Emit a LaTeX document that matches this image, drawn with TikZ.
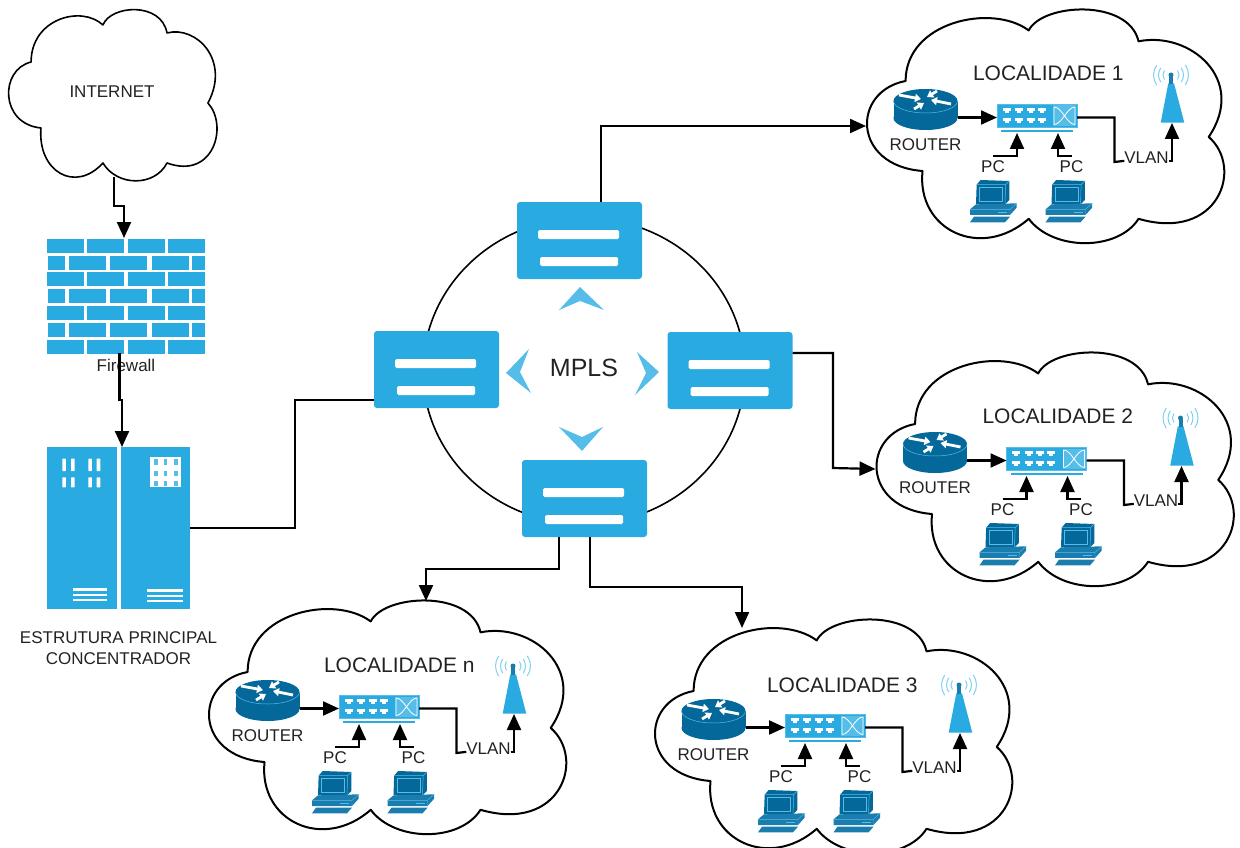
\documentclass[tikz,border=0pt]{standalone}
\usepackage{fontspec}
\setmainfont{Liberation Sans}
\usetikzlibrary{calc,arrows.meta}
\definecolor{cblue}{HTML}{29ABE2}
\definecolor{clight}{HTML}{56BDE8}
\definecolor{cdark}{HTML}{04689B}
\definecolor{cmid}{HTML}{1B7CAE}
\definecolor{ctxt}{HTML}{222222}
\definecolor{carc}{HTML}{7DD0F0}
\tikzset{
  conn/.style={draw=black,line width=2.2pt,line join=miter},
  arr/.style={conn,-{Triangle[length=16pt,width=14pt]}},
  cloudline/.style={draw=black,line width=2pt,line join=round},
  lbl/.style={font=\fontsize{17}{21}\selectfont,text=ctxt,inner sep=0pt,outer sep=0pt},
  title/.style={font=\fontsize{21}{24}\selectfont,text=ctxt,inner sep=0pt,outer sep=0pt,anchor=west},
  frame/.style={inner sep=0pt,outer sep=0pt},
  mplsbox/.style={fill=cblue,rounded corners=3pt,minimum width=125pt,minimum height=77pt,inner sep=0pt,outer sep=0pt},
  chev/.style={fill=clight},
}
% cloud outline in a 100x100 box
\newcommand{\CloudShape}[5][cloudline]{%
  \draw[#1,shift={(#2,#3)},x=#4pt,y=-#5pt]
    (15.7,69.4) .. controls (-4,67) and (-4,35) .. (11,30.6)
    .. controls (11,5) and (35,-3) .. (45.2,8.8)
    .. controls (49,-3) and (73,-5) .. (75.7,13.5)
    .. controls (90,9) and (106,30) .. (95.2,54.7)
    .. controls (105,68) and (98,100) .. (75.7,90)
    .. controls (70,104) and (52,104) .. (45.2,90)
    .. controls (32,108) and (14,95) .. cycle;}
\newcommand{\PCicon}[2]{%
  \begin{scope}[shift={(#1,#2)},x=0.3333pt,y=-0.3333pt]
    \fill[cdark] (50,44) -- (62,30) -- (148,33) -- (148,90) -- (135,103) -- (48,103) -- cycle;
    \draw[clight,line width=.5pt] (50,44) -- (137,44) -- (148,33) (137,44) -- (135,103);
    \draw[clight,line width=.6pt] (58,52) -- (128,52) -- (128,95) -- (58,95) -- cycle;
    \fill[cmid] (48,103) -- (170,100) -- (170,113) -- (150,135) -- (30,135) -- (30,118) -- cycle;
    \draw[clight,line width=.4pt] (30,118) -- (150,118) -- (170,100) (150,118) -- (150,135);
    \fill[clight] (115,125) rectangle (142,129);
    \fill[cmid] (42,140) -- (150,140) -- (135,157) -- (30,157) -- cycle;
  \end{scope}}
\newcommand{\Loc}[6]{%
 \begin{scope}[shift={(#2,#3)}]
  \node[frame,minimum width=360pt,minimum height=232pt] (cloud#1) at (1046,126) {};
  \CloudShape{866}{10}{3.6}{2.32}
  \node[title] (name#1) at (973+#5,73+#6) {#4};
  % router
  \node[frame,minimum width=64pt,minimum height=41pt] (router#1) at (925.5,109.5) {};
  \fill[cdark] (893.5,101) rectangle (957.5,118);
  \fill[cdark] (925.5,118) ellipse [x radius=32pt,y radius=12pt];
  \fill[cdark] (925.5,101) ellipse [x radius=32pt,y radius=12pt];
  \draw[clight,line width=.5pt] (893.5,101) arc [start angle=180,end angle=360,x radius=32pt,y radius=12pt];
  \foreach \a/\b/\c/\d in {899/95/921/99,937/91/927/97,951/104/931/100,914/109/924/103}
    \draw[white,line width=2.8pt,-{Triangle[length=6pt,width=8pt]}] (\a,\b) -- (\c,\d);
  \node[lbl] (rlabel#1) at (925.5,145) {ROUTER};
  % switch
  \node[frame,fill=cblue,draw=clight,line width=.5pt,minimum width=80pt,minimum height=23pt] (switch#1) at (1037,115.5) {};
  \foreach \px in {1006.7,1019,1030.7,1041.7} \foreach \py in {108,118} {
    \fill[white] (\px-4,\py) rectangle (\px+4,\py+2.6);
    \fill[white] (\px-2,\py+2.6) rectangle (\px+2,\py+5);}
  \fill[clight] (1053,105.5) rectangle (1076,126);
  \draw[white,line width=.8pt] (1054,107) .. controls (1062,107) and (1067,124.5) .. (1075,124.5)
     (1054,124.5) .. controls (1062,124.5) and (1067,107) .. (1075,107)
     (1054,107) -- (1054,124.5) (1075,107) -- (1075,124.5);
  \fill[cblue] (1001,130) rectangle (1073,132);
  \draw[arr] ($(router#1.east)+(0,8)$) -- ($(switch#1.west)+(0,2)$);
  % antenna
  \node[frame,minimum width=24pt,minimum height=48pt] (ant#1) at (1172,99) {};
  \fill[cblue] (1160.7,122.7) -- (1168.3,83.3) -- (1174,83.3) -- (1184.3,122.7) -- cycle;
  \fill[cmid] (1169.2,76) rectangle (1173,84);
  \fill[cmid] (1171,75) circle [radius=2.5pt];
  \draw[carc,line width=1pt]
    (1171+14.3,75+10) arc [start angle=-35,end angle=35,radius=17.5pt]
    (1171+10.2,75+7.2) arc [start angle=-35,end angle=35,radius=12.5pt]
    (1171+6.6,75+4.6) arc [start angle=-35,end angle=35,radius=8pt]
    (1171-14.3,75-10) arc [start angle=145,end angle=215,radius=17.5pt]
    (1171-10.2,75-7.2) arc [start angle=145,end angle=215,radius=12.5pt]
    (1171-6.6,75-4.6) arc [start angle=145,end angle=215,radius=8pt];
  % VLAN
  \node[lbl] (vlan#1) at (1146.5,158) {VLAN};
  \draw[conn] ($(switch#1.east)+(0,2)$) -| (1114.5,162) -- ($(vlan#1.south west)+(0,-3)$);
  \draw[arr] ($(vlan#1.south east)+(0,-3)$) -| (ant#1.south);
  % PCs
  \node[lbl] (pca#1) at (993,167) {PC};
  \node[lbl] (pcb#1) at (1071.5,167) {PC};
  \draw[arr] ($(pca#1.north)+(0,-5)$) -| ($(switch#1.south)+(-20,6)$);
  \draw[arr] ($(pcb#1.north)+(0,-5)$) -| ($(switch#1.south)+(21,6)$);
  \PCicon{960}{170}
  \PCicon{1035.5}{170}
 \end{scope}}
\begin{document}
\begin{tikzpicture}[x=1pt,y=-1pt]
\useasboundingbox (0,0) rectangle (1240,848);
% internet
\node[frame,minimum width=210pt,minimum height=170pt] (cloudI) at (113,95) {};
\CloudShape[cloudline,line width=1.6pt]{8}{10}{2.1}{1.7}
\node[lbl] (inet) at (112,92) {INTERNET};
% firewall
\node[frame,minimum width=158pt,minimum height=115pt] (fw) at (126,295.5) {};
\foreach \r in {0,2,4,6} \foreach \a/\b in {47/84,87.3/124,128/164.7,168/205}
  \fill[cblue] (\a,238.7+16.8*\r) rectangle (\b,252.7+16.8*\r);
\foreach \r in {1,3,5} \foreach \a/\b in {47.7/65.3,69/106,110.3/147,152/188.7,192/205}
  \fill[cblue] (\a,238.7+16.8*\r) rectangle (\b,252.7+16.8*\r);
\node[lbl] (fwl) at (126,365) {Firewall};
% server
\node[frame,minimum width=143pt,minimum height=162pt] (server) at (118.5,528) {};
\fill[cblue] (47,447) rectangle (117,609);
\fill[cblue] (121,447) rectangle (190,609);
\foreach \a in {62.3,71,88.3,96.7} {
  \fill[white,rounded corners=.5pt] (\a,458.7) rectangle (\a+3.6,471);
  \fill[white,rounded corners=.5pt] (\a,477.3) rectangle (\a+3.6,487.3);}
\fill[white] (150,456.7) rectangle (181.3,487.3);
\foreach \a in {154,163.7,174} \foreach \b in {459.3,470.7,480.7}
  \fill[clight] (\a,\b) rectangle (\a+3.7,\b+5.5);
\foreach \b in {588.3,594,599} {
  \fill[white] (72.7,\b) rectangle (107.3,\b+2.3);
  \fill[white] (147.3,\b+1) rectangle (182.7,\b+3.3);}
\node[lbl,align=center] (srvl) at (118.5,648) {ESTRUTURA PRINCIPAL\\CONCENTRADOR};
% MPLS ring
\coordinate (ringc) at (584,371);
\draw[black,line width=1.6pt] (ringc) ellipse [x radius=161pt,y radius=153pt];
\node[mplsbox] (boxT) at (579.5,240.5) {};
\node[mplsbox] (boxL) at (436.5,369.5) {};
\node[mplsbox] (boxR) at (730,370.5) {};
\node[mplsbox] (boxB) at (584.5,498.5) {};
\foreach \b in {boxT,boxL,boxR,boxB} {
  \fill[white,rounded corners=1.5pt] ($(\b.north west)+(21,28)$) rectangle ($(\b.north west)+(102,37)$);
  \fill[white,rounded corners=1.5pt] ($(\b.north west)+(23,55)$) rectangle ($(\b.north west)+(101,64)$);}
\fill[chev] (580,287) -- (604,310) -- (580,301) -- (559,310) -- cycle;
\fill[chev] (506,373) -- (529,349) -- (520,372) -- (531,393) -- cycle;
\fill[chev] (659,372) -- (637,352) -- (646,373) -- (635,395) -- cycle;
\fill[chev] (582,451) -- (559,427) -- (582,437) -- (603,427) -- cycle;
\node[font=\fontsize{25}{28}\selectfont,text=ctxt,inner sep=0pt] (mpls) at (584,367.5) {MPLS};
% locations
\Loc{A}{0}{0}{LOCALIDADE 1}{0}{0}
\Loc{B}{9.5}{343}{LOCALIDADE 2}{0}{0}
\Loc{C}{-212}{610}{LOCALIDADE 3}{6}{2}
\Loc{N}{-658}{591}{LOCALIDADE n}{9}{1}
% connectors
\draw[arr] ($(cloudI.south)+(1,-3)$) -- ++(0,29) -| ($(fw.north)+(-2,0)$);
\draw[arr] ($(fw.south)+(-6.5,0)$) -- ++(0,47) -| ($(server.north)+(3.5,0)$);
\draw[conn] (server.east) -| (295,400) -- ($(boxL.west)+(0,30.5)$);
\draw[arr] ($(boxT.north)+(21.5,0)$) |- (cloudA.west);
\draw[arr] ($(boxR.east)+(0,-17.5)$) -| (833,468) -- (cloudB.west);
\draw[arr] ($(boxB.south)+(-25.5,0)$) -- ++(0,32) -| ($(cloudN.north)+(38,0)$);
\draw[arr] ($(boxB.south)+(5.5,0)$) -- ++(0,50) -| ($(cloudC.north)+(-92,8)$);
\end{tikzpicture}
\end{document}
